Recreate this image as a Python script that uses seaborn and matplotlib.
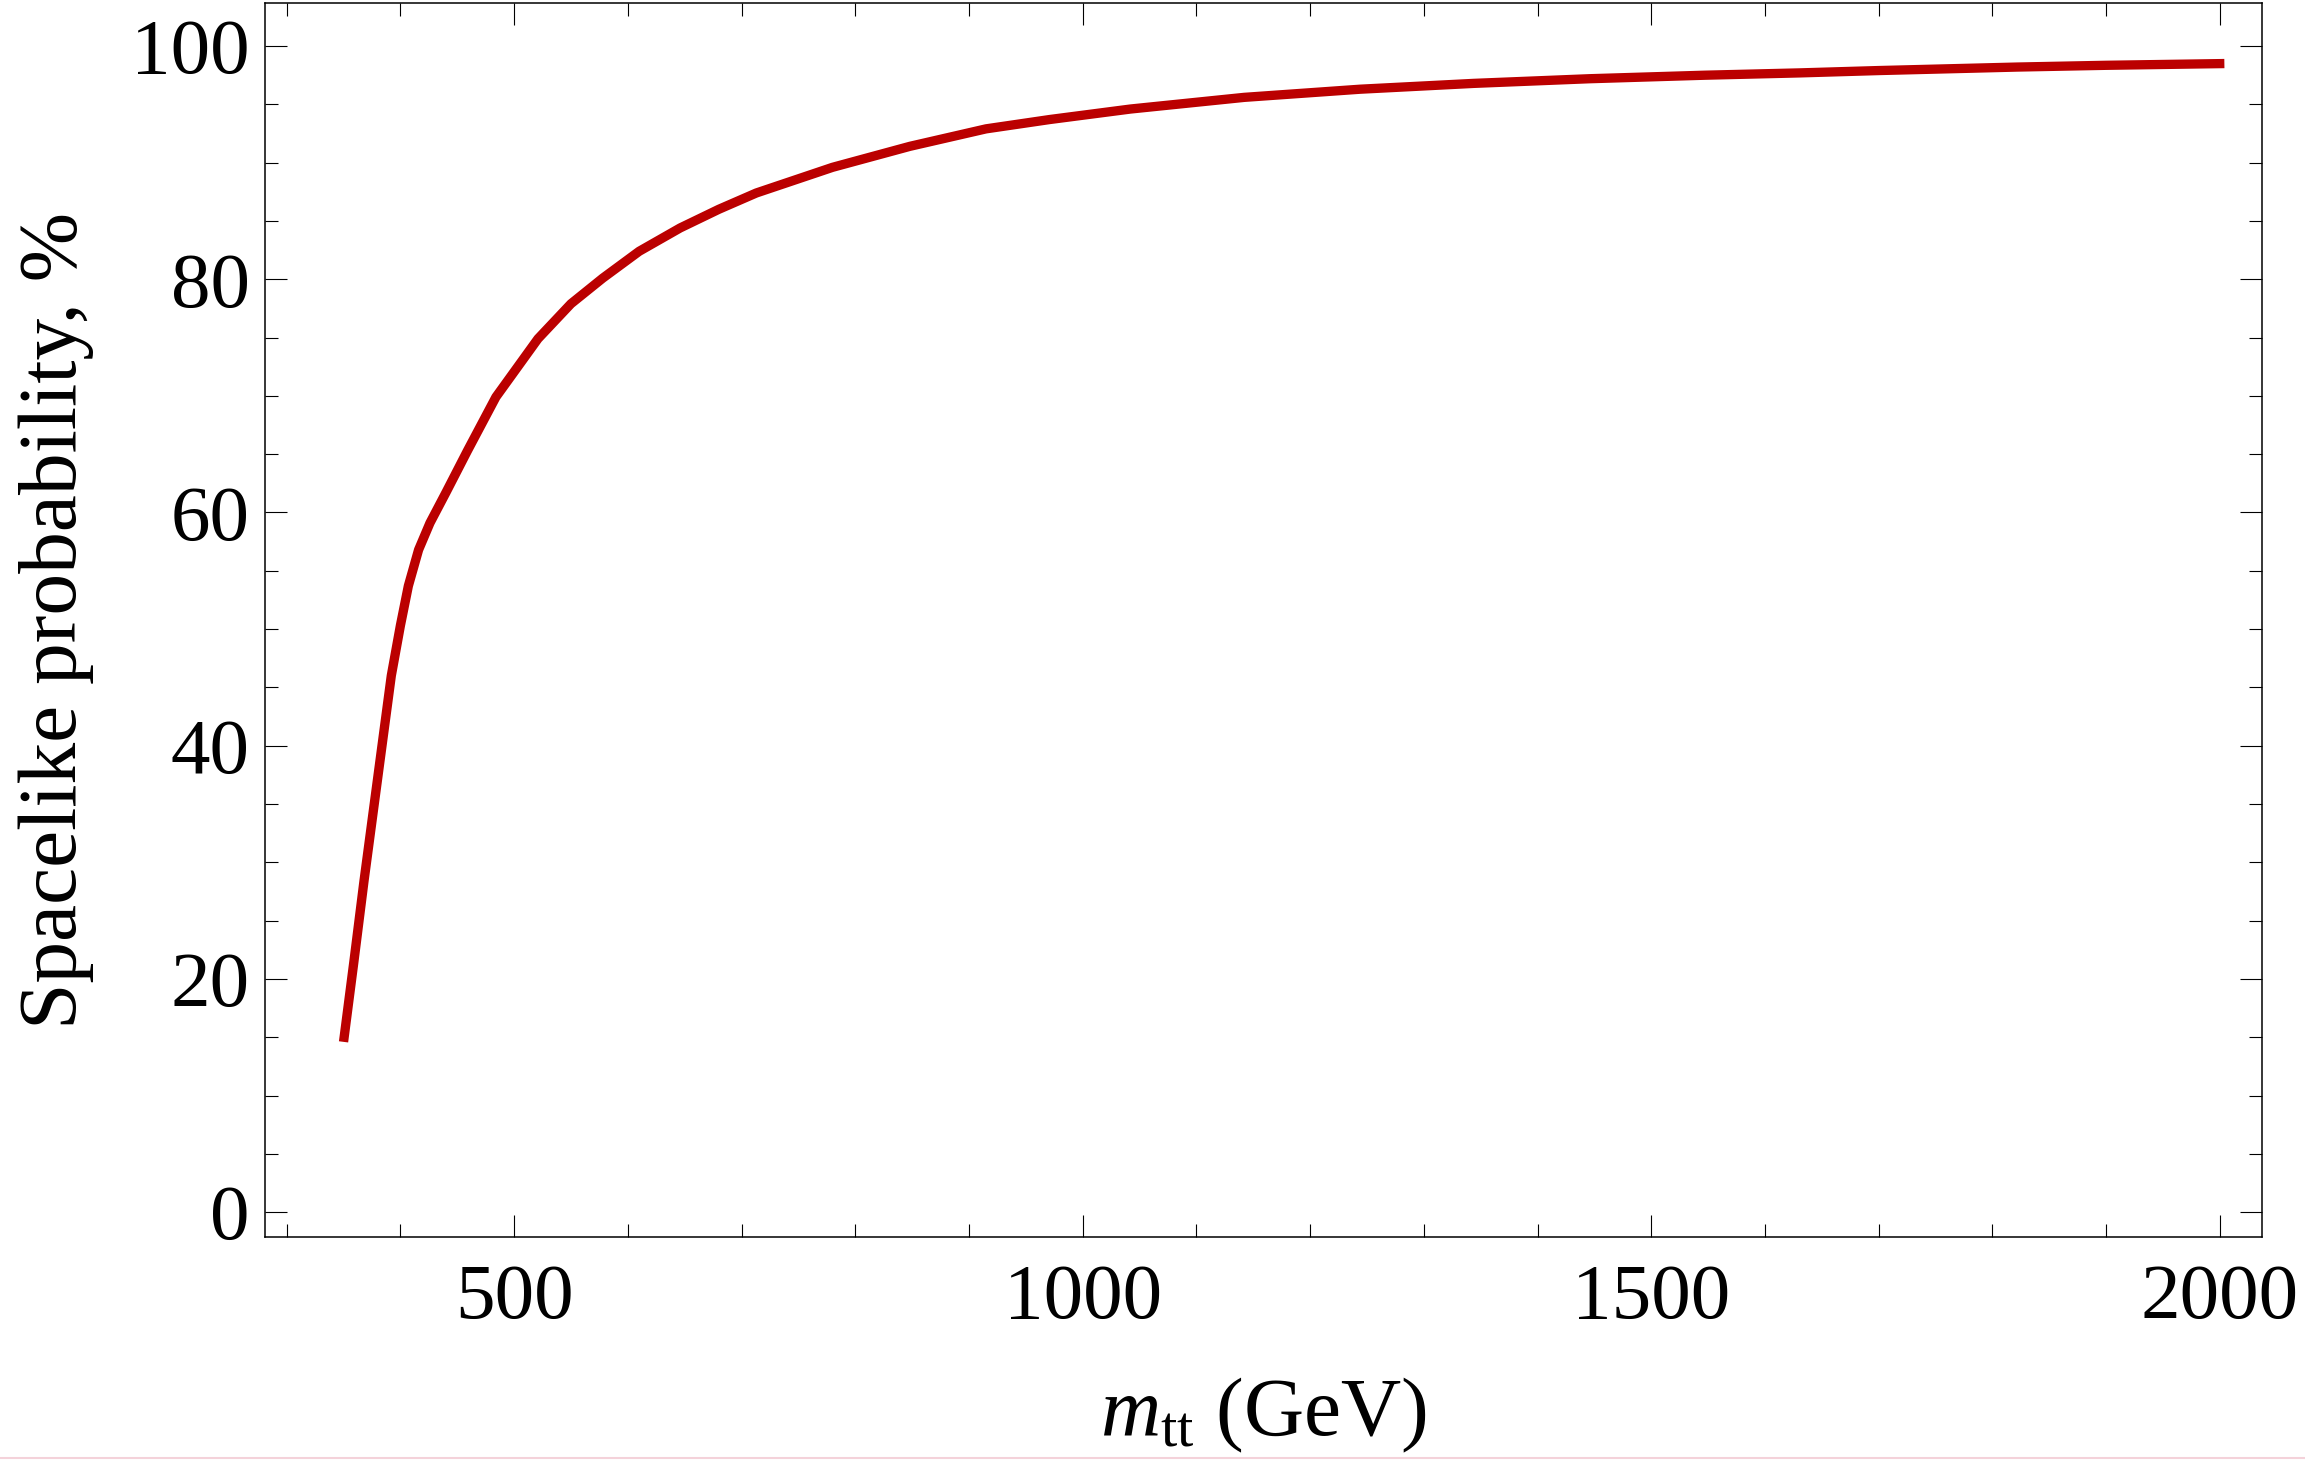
import pandas as pd
import matplotlib.pyplot as plt
from matplotlib.lines import Line2D
from matplotlib.ticker import MultipleLocator
import seaborn as sns

# Values
m_tt = [350, 359, 368, 380, 392, 400, 407, 416, 426, 440, 459, 484, 521, 550,
        578, 610, 646, 680, 713, 780, 848, 915, 971, 1042, 1142, 1244, 1344,
        1446, 1547, 1631, 1700, 1822, 1900, 2004]
spacelike = [14.6, 21.4, 28.4, 37.2, 46.0, 50.3, 53.7, 56.8, 59.1, 61.7, 65.3,
             69.9, 74.9, 77.9, 80.1, 82.4, 84.4, 86.0, 87.4, 89.6, 91.4, 92.9,
             93.7, 94.6, 95.6, 96.3, 96.8, 97.2, 97.5, 97.7, 97.9, 98.2, 98.35,
             98.5]

df = pd.DataFrame({"m_tt": m_tt, "prob": spacelike})

sns.set_style("ticks")
plt.rcParams["font.family"] = ["Liberation Serif", "DejaVu Serif"]
plt.rcParams["mathtext.fontset"] = "custom"
plt.rcParams["mathtext.rm"] = "Liberation Serif"
plt.rcParams["mathtext.it"] = "Liberation Serif:italic"
plt.rcParams["text.color"] = "black"
plt.rcParams["axes.labelcolor"] = "black"
plt.rcParams["xtick.labelcolor"] = "black"
plt.rcParams["ytick.labelcolor"] = "black"

fig = plt.figure(figsize=(23.05, 14.6), dpi=100)
ax = fig.add_axes([0.115, 0.1527, 0.8663, 0.8453])

sns.lineplot(data=df, x="m_tt", y="prob", ax=ax, color="#bb0000",
             linewidth=6.7, solid_capstyle="butt")

ax.set_xlim(281, 2037)
ax.set_ylim(-2.14, 103.7)
ax.xaxis.set_major_locator(MultipleLocator(500))
ax.xaxis.set_minor_locator(MultipleLocator(100))
ax.yaxis.set_major_locator(MultipleLocator(20))
ax.yaxis.set_minor_locator(MultipleLocator(5))

ax.tick_params(which="both", direction="in", top=True, right=True,
               width=0.8, color="black", labelsize=57)
ax.tick_params(axis="x", pad=19)
ax.tick_params(axis="y", pad=11)
ax.tick_params(which="major", length=15.5)
ax.tick_params(which="minor", length=9.5)
for s in ax.spines.values():
    s.set_linewidth(1.1)
    s.set_color("black")

ax.set_xlabel(r"$m_{\mathrm{tt}}$ (GeV)", fontsize=60)
ax.set_ylabel("Spacelike probability, %", fontsize=60)
ax.xaxis.set_label_coords(0.5, -0.112)
ax.yaxis.set_label_coords(-0.0856, 0.5)

# faint line along the bottom edge of the original image
fig.add_artist(Line2D([0, 1], [0.0015, 0.0015], color="#f4d2da", lw=1.5))

plt.savefig("out.png", dpi=100)
